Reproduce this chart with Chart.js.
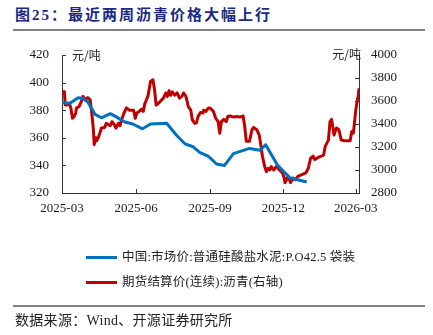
<!DOCTYPE html>
<html>
<head>
<meta charset="utf-8">
<script src="https://cdn.jsdelivr.net/npm/chart.js@4.4.1/dist/chart.umd.min.js"></script>
<style>
    body { margin: 0; background: #fff; }
    #wrap { position: relative; width: 433px; height: 335px; overflow: hidden; font-family: "Liberation Serif", "Noto Sans CJK SC", serif; color: #222; }
    #chart { position: absolute; left: 0; top: 0; }
    .title { position: absolute; left: 15px; top: 6px; line-height: 18px; font-size: 15px; font-weight: bold; color: #1b2a80; letter-spacing: 2px; white-space: nowrap; }
    .rule { position: absolute; left: 13px; width: 412px; height: 2px; background: #808080; }
    .legend { position: absolute; left: 86px; font-size: 12.5px; line-height: 16px; letter-spacing: 0.2px; white-space: nowrap; }
    .legend i { display: inline-block; width: 31px; height: 3px; vertical-align: middle; margin-right: 5px; position: relative; top: -1px; }
    .source { position: absolute; left: 15px; top: 312px; font-size: 14px; line-height: 18px; letter-spacing: 0.3px; white-space: nowrap; }
</style>
</head>
<body>
<div id="wrap">
    <div class="title">图25：最近两周沥青价格大幅上行</div>
    <div class="rule" style="top:29px"></div>
    <canvas id="chart" width="433" height="335"></canvas>
    <div class="legend" style="top:249px"><i style="background:#0070C0"></i>中国:市场价:普通硅酸盐水泥:P.O42.5 袋装</div>
    <div class="legend" style="top:274px"><i style="background:#C00000"></i>期货结算价(连续):沥青(右轴)</div>
    <div class="rule" style="top:305px"></div>
    <div class="source">数据来源：Wind、开源证券研究所</div>
</div>
<script>
// 水泥价格（左轴，元/吨）
const cementDates = ['2025-03-01', '2025-03-11', '2025-03-21', '2025-03-27', '2025-04-02', '2025-04-11', '2025-04-19',
    '2025-04-30', '2025-05-08', '2025-05-18', '2025-05-28', '2025-06-09', '2025-06-19', '2025-07-09', '2025-07-21',
    '2025-08-01', '2025-08-11', '2025-08-19', '2025-08-30', '2025-09-09', '2025-09-19', '2025-09-30', '2025-10-20',
    '2025-11-02', '2025-11-09', '2025-11-24', '2025-12-09', '2025-12-30'];
const cementPrice = [385.5, 385, 389, 388.5, 386, 377, 374.5,
    377.5, 375, 371.5, 370, 366.5, 370, 370.5, 362,
    355.5, 353.5, 349.5, 346.5, 341, 340, 348.5, 352.3,
    351, 355, 340, 331, 328];

// 沥青期货结算价（右轴，元/吨）
const asphaltDates = ['2025-03-01', '2025-03-04', '2025-03-05', '2025-03-07', '2025-03-10', '2025-03-12', '2025-03-14',
    '2025-03-16', '2025-03-18', '2025-03-19', '2025-03-22', '2025-03-25', '2025-03-27', '2025-03-30', '2025-04-02',
    '2025-04-05', '2025-04-07', '2025-04-09', '2025-04-10', '2025-04-12', '2025-04-13', '2025-04-15', '2025-04-17',
    '2025-04-19', '2025-04-23', '2025-04-25', '2025-04-30', '2025-05-02', '2025-05-05', '2025-05-07', '2025-05-10',
    '2025-05-12', '2025-05-14', '2025-05-17', '2025-05-20', '2025-05-24', '2025-05-29', '2025-05-31', '2025-06-02',
    '2025-06-05', '2025-06-08', '2025-06-10', '2025-06-12', '2025-06-14', '2025-06-16', '2025-06-19', '2025-06-22',
    '2025-06-24', '2025-06-26', '2025-06-29', '2025-07-03', '2025-07-05', '2025-07-08', '2025-07-10', '2025-07-12',
    '2025-07-14', '2025-07-16', '2025-07-19', '2025-07-22', '2025-07-25', '2025-07-28', '2025-07-30', '2025-08-02',
    '2025-08-05', '2025-08-08', '2025-08-10', '2025-08-13', '2025-08-15', '2025-08-17', '2025-08-20', '2025-08-23',
    '2025-08-24', '2025-08-27', '2025-08-30', '2025-09-01', '2025-09-05', '2025-09-08', '2025-09-11', '2025-09-13',
    '2025-09-15', '2025-09-18', '2025-09-21', '2025-09-23', '2025-09-26', '2025-09-30', '2025-10-04', '2025-10-08',
    '2025-10-12', '2025-10-14', '2025-10-16', '2025-10-20', '2025-10-23', '2025-10-25', '2025-10-29', '2025-11-01',
    '2025-11-03', '2025-11-05', '2025-11-08', '2025-11-10', '2025-11-12', '2025-11-14', '2025-11-16', '2025-11-19',
    '2025-11-23', '2025-11-26', '2025-11-30', '2025-12-02', '2025-12-03', '2025-12-05', '2025-12-07', '2025-12-10',
    '2025-12-13', '2025-12-16', '2025-12-19', '2025-12-24', '2025-12-29', '2026-01-01', '2026-01-04', '2026-01-07',
    '2026-01-09', '2026-01-12', '2026-01-17', '2026-01-20', '2026-01-22', '2026-01-26', '2026-01-28', '2026-01-30',
    '2026-02-02', '2026-02-05', '2026-02-08', '2026-02-11', '2026-02-15', '2026-02-22', '2026-02-24', '2026-02-26',
    '2026-03-01', '2026-03-03', '2026-03-04', '2026-03-05'];
const asphaltPrice = [3680, 3680, 3565, 3565, 3580, 3540, 3450,
    3465, 3495, 3540, 3550, 3595, 3640, 3610, 3630,
    3610, 3495, 3350, 3220, 3280, 3255, 3280, 3320,
    3365, 3370, 3405, 3385, 3420, 3395, 3365, 3405,
    3385, 3435, 3495, 3540, 3520, 3520, 3450, 3495,
    3510, 3530, 3510, 3580, 3610, 3650, 3770, 3785,
    3695, 3565, 3580, 3610, 3625, 3670, 3640, 3690,
    3650, 3680, 3650, 3670, 3625, 3640, 3670, 3640,
    3550, 3520, 3435, 3405, 3410, 3465, 3500, 3495,
    3520, 3510, 3540, 3540, 3510, 3450, 3420, 3320,
    3420, 3440, 3420, 3465, 3470, 3460, 3465, 3460,
    3470, 3380, 3250, 3250, 3350, 3370, 3350, 3305,
    3220, 3120, 3025, 2985, 3015, 3000, 3030, 3000,
    3035, 3000, 2975, 2930, 2890, 2915, 2945, 2890,
    2930, 2915, 2945, 2960, 2975, 3015, 3105, 3120,
    3090, 3105, 3120, 3130, 3205, 3260, 3420, 3440,
    3305, 3365, 3350, 3260, 3255, 3255, 3335, 3320,
    3520, 3610, 3640, 3710];

// x 轴刻度
const tickDates = ['2025-03-01', '2025-06-01', '2025-09-01', '2025-12-01', '2026-03-01'];
const tickLabels = ['2025-03', '2025-06', '2025-09', '2025-12', '2026-03'];
const endDate = '2026-03-05';

const origin = Date.UTC(2025, 2, 1);
function dayOf(s) {
    const p = s.split('-');
    return (Date.UTC(+p[0], +p[1] - 1, +p[2]) - origin) / 86400000;
}
const tickDays = tickDates.map(dayOf);

const tickFont = { family: 'Liberation Serif', size: 13 };

// 坐标轴刻度线朝内，顶部单位
const innerTicks = {
    id: 'innerTicks',
    afterDatasetsDraw(chart) {
        const { ctx, chartArea: a, scales } = chart;
        ctx.save();
        ctx.strokeStyle = '#333';
        ctx.lineWidth = 1;
        ctx.beginPath();
        scales.x.ticks.forEach(t => {
            const px = Math.round(scales.x.getPixelForValue(t.value)) + 0.5;
            ctx.moveTo(px, a.bottom);
            ctx.lineTo(px, a.bottom - 4);
        });
        scales.y.ticks.forEach(t => {
            const py = Math.round(scales.y.getPixelForValue(t.value)) + 0.5;
            ctx.moveTo(a.left, py);
            ctx.lineTo(a.left + 4, py);
        });
        scales.y1.ticks.forEach(t => {
            const py = Math.round(scales.y1.getPixelForValue(t.value)) + 0.5;
            ctx.moveTo(a.right, py);
            ctx.lineTo(a.right - 4, py);
        });
        ctx.stroke();
        ctx.fillStyle = '#222';
        ctx.font = '12px "Noto Sans CJK SC"';
        ctx.textBaseline = 'middle';
        ctx.textAlign = 'left';
        ctx.fillText('元/吨', a.left + 10, a.top);
        ctx.textAlign = 'right';
        ctx.fillText('元/吨', a.right + 2, a.top - 1);
        ctx.restore();
    }
};

new Chart(document.getElementById('chart').getContext('2d'), {
    type: 'line',
    data: {
        datasets: [{
            label: '中国:市场价:普通硅酸盐水泥:P.O42.5 袋装',
            data: cementDates.map((d, i) => ({ x: dayOf(d), y: cementPrice[i] })),
            yAxisID: 'y',
            borderColor: '#0070C0',
            borderWidth: 3,
            borderJoinStyle: 'round',
            pointRadius: 0,
            tension: 0
        }, {
            label: '期货结算价(连续):沥青(右轴)',
            data: asphaltDates.map((d, i) => ({ x: dayOf(d), y: asphaltPrice[i] })),
            yAxisID: 'y1',
            borderColor: '#C00000',
            borderWidth: 3,
            borderJoinStyle: 'round',
            pointRadius: 0,
            tension: 0
        }]
    },
    options: {
        responsive: false,
        animation: false,
        layout: { padding: { top: 55, bottom: 114, left: 0, right: 0 } },
        plugins: { legend: { display: false }, tooltip: { enabled: false } },
        scales: {
            x: {
                type: 'linear',
                min: 0,
                max: dayOf(endDate),
                grid: { display: false, drawTicks: false },
                border: { color: '#333', width: 1 },
                afterBuildTicks: s => { s.ticks = tickDays.map(v => ({ value: v })); },
                afterFit: s => { s.height = 28; },
                ticks: {
                    autoSkip: false,
                    maxRotation: 0,
                    padding: 8,
                    color: '#1a1a1a',
                    font: tickFont,
                    callback: v => tickLabels[tickDays.indexOf(v)]
                }
            },
            y: {
                position: 'left',
                min: 320,
                max: 420,
                grid: { display: false, drawTicks: false },
                border: { color: '#333', width: 1 },
                afterFit: s => { s.width = 62; },
                ticks: { stepSize: 20, padding: 13, color: '#1a1a1a', font: tickFont, callback: v => String(v) }
            },
            y1: {
                position: 'right',
                min: 2800,
                max: 4000,
                grid: { display: false, drawTicks: false },
                border: { color: '#333', width: 1 },
                afterFit: s => { s.width = 74; },
                ticks: { stepSize: 200, padding: 12, color: '#1a1a1a', font: tickFont, callback: v => String(v) }
            }
        }
    },
    plugins: [innerTicks]
});
</script>
</body>
</html>
